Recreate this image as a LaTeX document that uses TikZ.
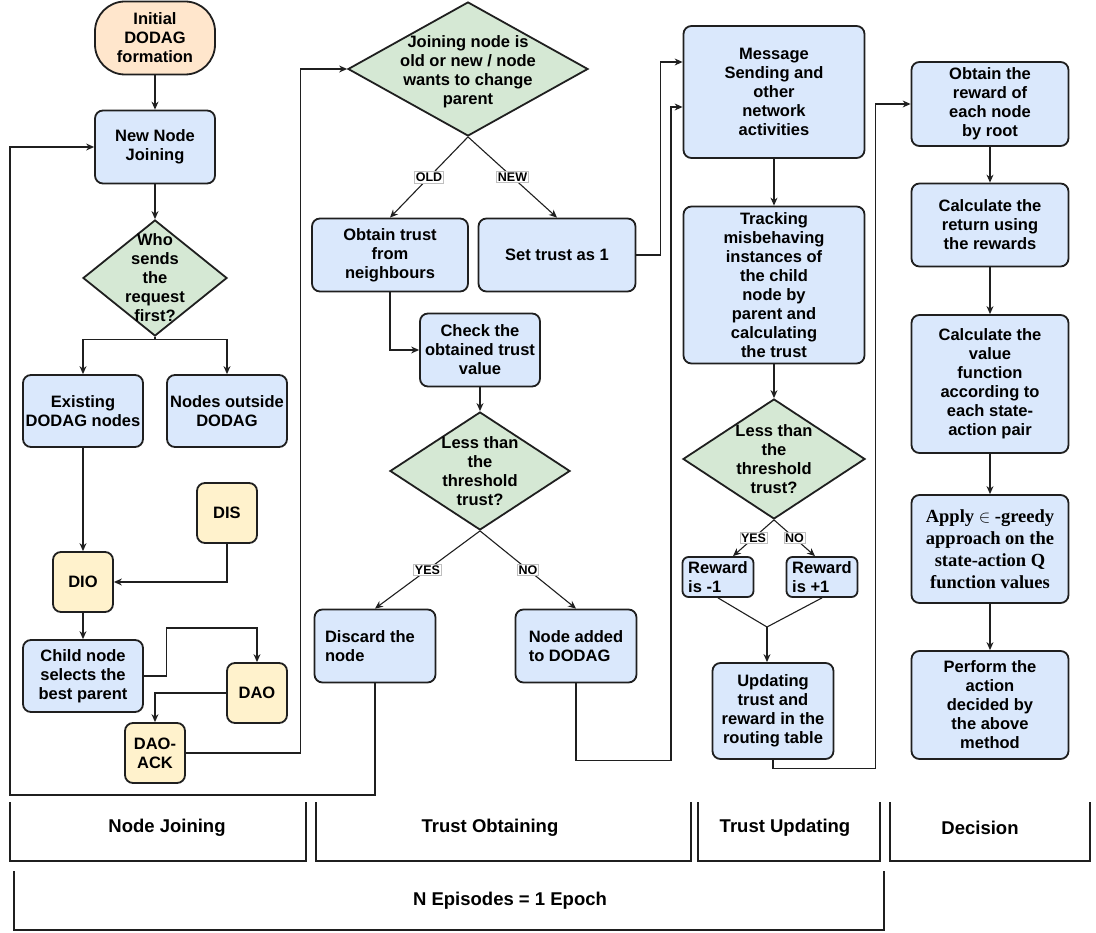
\documentclass[tikz,border=0pt]{standalone}
\usepackage{fontspec}
\setmainfont{Liberation Sans}
\newfontfamily\timesfont{Liberation Serif}
\usepackage{tikz}
\usetikzlibrary{
    shapes.geometric,
    calc,
    positioning,
    arrows.meta
}
\definecolor{boxblue}{HTML}{DAE8FC}
\definecolor{boxgreen}{HTML}{D5E8D4}
\definecolor{boxyellow}{HTML}{FFF2CC}
\definecolor{boxpeach}{HTML}{FFE6CC}
\definecolor{edgegray}{HTML}{1F1F1F}

\begin{document}
\begin{tikzpicture}[x=1pt,y=-1pt]
  \useasboundingbox (0,0) rectangle (1096,933);

  % Styles for boxes, decisions and connectors
  \tikzset{
    txt/.style={font=\fontsize{16.5}{19}\selectfont\bfseries},
    process/.style={rectangle, rounded corners=8pt, draw=edgegray, line width=1.8pt,
                    fill=boxblue, align=center, inner sep=1pt, txt},
    msgbox/.style={process, fill=boxyellow, minimum width=60, minimum height=60},
    decision/.style={diamond, draw=edgegray, line width=1.8pt, fill=boxgreen, inner sep=0pt},
    dtext/.style={align=center, txt},
    conn/.style={draw=edgegray, line width=1.1pt},
    arr/.style={conn, -{Stealth[length=8pt,width=7pt]}},
    tag/.style={fill=white, draw=black!25, line width=0.6pt, inner sep=1.2pt,
                font=\fontsize{12.5}{13}\selectfont\bfseries},
    phase/.style={font=\fontsize{18.5}{20}\selectfont\bfseries},
    bracket/.style={draw=edgegray, line width=1.6pt}
  }

  % --- Node joining column
  \node[process, fill=boxpeach, rounded corners=30pt, minimum width=120, minimum height=73]
    (init) at (155,38) {Initial\\DODAG\\formation};
  \node[process, minimum width=120, minimum height=73] (newnode) at (155,147) {New Node\\Joining};
  \node[decision, minimum width=144, minimum height=116,
        label={[dtext]center:Who\\sends\\the\\request\\first?}] (who) at (155,278) {};
  \node[process, minimum width=120, minimum height=72] (exist) at (83,411) {Existing\\DODAG nodes};
  \node[process, minimum width=120, minimum height=72] (outside) at (227,411) {Nodes outside\\DODAG};
  \node[msgbox] (dis) at (227,513) {DIS};
  \node[msgbox] (dio) at (83,582) {DIO};
  \node[process, minimum width=120, minimum height=72] (child) at (83,676) {Child node\\selects the\\best parent};
  \node[msgbox] (dao) at (257,693) {DAO};
  \node[msgbox] (daoack) at (155,753) {DAO-\\ACK};

  % --- Trust obtaining column
  \node[decision, minimum width=240, minimum height=134,
        label={[dtext, yshift=-3pt]center:Joining node is\\old or new / node\\wants to change\\parent}]
    (joinq) at (468,69) {};
  \node[process, minimum width=156, minimum height=73] (obtain) at (390,255) {Obtain trust\\from\\neighbours};
  \node[process, minimum width=157, minimum height=73] (settrust) at (557,255) {Set trust as 1};
  \node[process, minimum width=120, minimum height=73] (check) at (480,350) {Check the\\obtained trust\\value};
  \node[decision, minimum width=180, minimum height=118,
        label={[dtext]center:Less than\\the\\threshold\\trust?}] (lessq) at (480,471) {};
  \node[process, align=left, minimum width=121, minimum height=73] (discard) at (375,646) {Discard the\phantom{d}\\node};
  \node[process, align=left, minimum width=121, minimum height=73] (added) at (576,646) {Node added\\to DODAG};

  % --- Trust updating column
  \node[process, minimum width=181, minimum height=132] (msg) at (774,92)
    {Message\\Sending and\\other\\network\\activities};
  \node[process, minimum width=181, minimum height=157] (track) at (774,285)
    {Tracking\\misbehaving\\instances of\\the child\\node by\\parent and\\calculating\\the trust};
  \node[decision, minimum width=182, minimum height=120,
        label={[dtext]center:Less than\\the\\threshold\\trust?}] (lessq2) at (774,459) {};
  \node[process, align=left, rounded corners=6pt, minimum width=71, minimum height=40] (rminus) at (718,577) {Reward\\is -1};
  \node[process, align=left, rounded corners=6pt, minimum width=71, minimum height=40] (rplus) at (822,577) {Reward\\is +1};
  \node[process, minimum width=121, minimum height=96] (update) at (773,711)
    {Updating\\trust and\\reward in the\\routing table};
  \coordinate (merge) at (767,627);

  % --- Decision column
  \node[process, minimum width=157, minimum height=84] (reward) at (990,104) {Obtain the\\reward of\\each node\\by root};
  \node[process, minimum width=157, minimum height=83] (ret) at (990,225) {Calculate the\\return using\\the rewards};
  \node[process, minimum width=157, minimum height=138] (value) at (990,384)
    {Calculate the\\value\\function\\according to\\each state-\\action pair};
  \node[process, minimum width=157, minimum height=108, font=\timesfont\fontsize{18.5}{22}\selectfont\bfseries]
    (greedy) at (990,549) {Apply $\in$ -greedy\\approach on the\\state-action Q\\function values};
  \node[process, minimum width=157, minimum height=108] (act) at (990,705)
    {Perform the\\action\\decided by\\the above\\method};

  % Connectors: node joining
  \draw[arr] (init) -- (newnode);
  \draw[arr] (newnode) -- (who);
  \draw[arr] (who.south) -- ++(0,3) -| (exist.north);
  \draw[arr] (who.south) -- ++(0,3) -| (outside.north);
  \draw[arr] (exist) -- (dio);
  \draw[arr] (dis.south) |- (dio.east);
  \draw[arr] (dio) -- (child);
  \draw[arr] (child.east) -- ++(23,0) |- (dao.north |- 0,628) -- (dao.north);
  \draw[arr] (dao.west) -| (daoack.north);
  \draw[arr] (daoack.east) -- ++(115,0) |- (joinq.west);

  % Connectors: trust obtaining
  \draw[arr] (joinq.south) -- node[tag] {OLD} (obtain.north);
  \draw[arr] (joinq.south) -- node[tag] {NEW} (settrust.north);
  \draw[arr] (obtain.south) |- (check.west);
  \draw[arr] (settrust.east) -- ++(24,0) |- ([yshift=30pt]msg.west);
  \draw[arr] (check) -- (lessq);
  \draw[arr] (lessq.south) -- node[tag] {YES} (discard.north);
  \draw[arr] (lessq.south) -- node[tag] {NO} (added.north);
  \coordinate (loopcorner) at (10,795);
  \draw[arr] (discard.south) |- (loopcorner) |- (newnode.west);
  \draw[arr] (added.south) |- ++(95,77) |- ([yshift=-15pt]msg.west);

  % Connectors: trust updating
  \draw[arr] (msg) -- (track);
  \draw[arr] (track) -- (lessq2);
  \draw[arr] (lessq2.south) -- node[tag] {YES} ([xshift=15pt]rminus.north);
  \draw[arr] (lessq2.south) -- node[tag] {NO} ([xshift=-7pt]rplus.north);
  \draw[conn] (rminus.south) -- (merge) -- (rplus.south);
  \draw[arr] (merge) -- (merge |- update.north);
  \draw[arr] (update.south) -- ++(0,9) -| ([xshift=-35pt]reward.west) -- (reward.west);

  % Connectors: decision
  \draw[arr] (reward) -- (ret);
  \draw[arr] (ret) -- (value);
  \draw[arr] (value) -- (greedy);
  \draw[arr] (greedy) -- (act);

  % Phase brackets
  \draw[bracket] (10,802) |- (306,861) -- (306,802);
  \draw[bracket] (316,802) |- (691,861) -- (691,802);
  \draw[bracket] (698,802) |- (880,861) -- (880,802);
  \draw[bracket] (890,802) |- (1090,861) -- (1090,802);
  \draw[bracket, line width=2.2pt] (14,871) |- (884,930) -- (884,871);
  \node[phase] (pjoin) at (167,828) {Node Joining};
  \node[phase] (pobtain) at (490,828) {Trust Obtaining};
  \node[phase] (pupdate) at (785,828) {Trust Updating};
  \node[phase] (pdecide) at (980,828) {Decision};
  \node[phase] (pepoch) at (510,901) {N Episodes = 1 Epoch};
\end{tikzpicture}
\end{document}
